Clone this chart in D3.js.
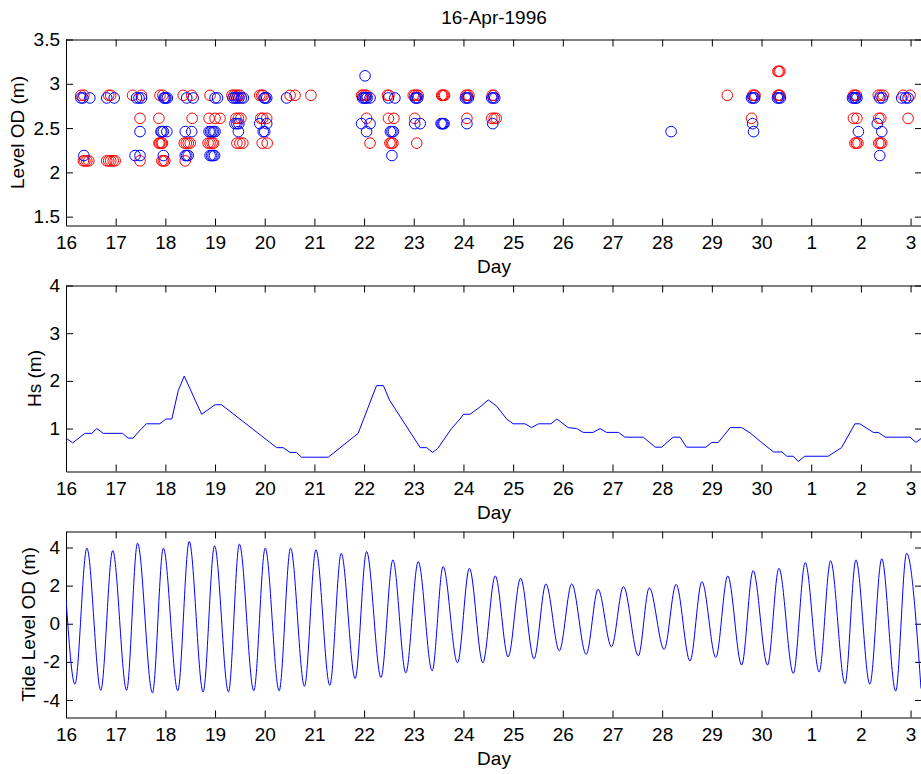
<!DOCTYPE html>
<html>
<head>
<meta charset="utf-8">
<script src="https://cdn.jsdelivr.net/npm/d3@7"></script>
<style>
  body { margin: 0; background: #fff; }
  svg text { font-family: "Liberation Sans", Arial, sans-serif; font-size: 19px; fill: #000; }
</style>
</head>
<body>
<svg id="chart" width="921" height="774"></svg>
<script>
// x axis: days counted from 16-Apr-1996 00:00
var dayLabels = ["16","17","18","19","20","21","22","23","24","25","26","27","28","29","30","1","2","3"];
var levelTicks = [1.5, 2, 2.5, 3, 3.5];
var hsTicks = [1, 2, 3, 4];
var tideTicks = [-4, -2, 0, 2, 4];

// observed levels (day, level OD m)
var redObs = [
  [0.30,2.87],[0.36,2.87],[0.86,2.87],[0.90,2.87],[1.34,2.87],[1.52,2.87],[1.89,2.87],[1.95,2.87],
  [2.36,2.87],[2.53,2.87],[2.90,2.87],[3.34,2.87],[3.38,2.87],[3.42,2.87],[3.46,2.87],[3.50,2.87],
  [3.90,2.87],[3.94,2.87],[3.97,2.87],[4.51,2.87],[4.61,2.87],[4.93,2.87],
  [5.95,2.87],[5.98,2.87],[6.02,2.87],[6.05,2.87],[6.47,2.87],[6.50,2.87],
  [6.99,2.87],[7.02,2.87],[7.06,2.87],[7.09,2.87],[7.56,2.87],[7.58,2.87],[7.60,2.87],[7.62,2.87],
  [8.05,2.87],[8.08,2.87],[8.11,2.87],[8.58,2.87],[8.61,2.87],[13.31,2.87],
  [13.82,2.87],[13.85,2.87],[13.87,2.87],[14.33,2.87],[14.35,2.87],[14.37,2.87],
  [15.85,2.87],[15.88,2.87],[15.91,2.87],[16.35,2.87],[16.40,2.87],[16.45,2.87],[16.85,2.87],[16.99,2.87],
  [1.49,2.61],[1.87,2.61],[2.54,2.61],[2.88,2.61],[3.00,2.61],[3.10,2.61],[3.42,2.61],[3.47,2.61],[3.52,2.61],
  [3.92,2.61],[3.96,2.61],[4.04,2.61],[6.05,2.61],[6.49,2.61],[6.60,2.61],[7.02,2.61],[8.07,2.61],
  [8.57,2.61],[8.62,2.61],[8.66,2.61],[13.80,2.61],[15.85,2.61],[15.92,2.61],[16.36,2.61],[16.40,2.61],[16.95,2.61],
  [1.87,2.33],[1.89,2.33],[1.92,2.33],[1.94,2.33],[2.38,2.33],[2.42,2.33],[2.46,2.33],[2.50,2.33],
  [2.86,2.33],[2.90,2.33],[2.94,2.33],[2.97,2.33],[3.44,2.33],[3.50,2.33],[3.56,2.33],[3.95,2.33],[4.05,2.33],
  [6.12,2.33],[6.52,2.33],[6.55,2.33],[6.58,2.33],[7.06,2.33],
  [15.88,2.33],[15.91,2.33],[15.94,2.33],[16.36,2.33],[16.39,2.33],[16.42,2.33],
  [0.35,2.13],[0.38,2.13],[0.42,2.13],[0.46,2.13],[0.82,2.13],[0.86,2.13],[0.90,2.13],[0.95,2.13],[0.99,2.13],
  [1.49,2.13],[1.93,2.13],[1.96,2.13],[1.99,2.13],[2.40,2.13],
  [14.33,3.14],[14.35,3.14],[14.37,3.14]
];
var blueObs = [
  [0.30,2.84],[0.34,2.84],[0.48,2.84],[0.82,2.84],[0.97,2.84],[1.42,2.84],[1.47,2.84],[1.52,2.84],
  [1.97,2.84],[1.99,2.84],[2.01,2.84],[2.04,2.84],[2.43,2.84],[2.56,2.84],[3.00,2.84],[3.05,2.84],
  [3.36,2.84],[3.40,2.84],[3.44,2.84],[3.48,2.84],[3.53,2.84],[3.57,2.84],[3.99,2.84],[4.01,2.84],[4.04,2.84],
  [4.44,2.84],[5.97,2.84],[6.00,2.84],[6.03,2.84],[6.06,2.84],[6.12,2.84],[6.49,2.84],[6.62,2.84],
  [7.03,2.84],[7.05,2.84],[7.08,2.84],[8.04,2.84],[8.07,2.84],[8.10,2.84],[8.57,2.84],[8.60,2.84],[8.63,2.84],
  [13.80,2.84],[13.83,2.84],[13.86,2.84],[14.32,2.84],[14.35,2.84],[14.38,2.84],
  [15.83,2.84],[15.86,2.84],[15.89,2.84],[15.92,2.84],[16.38,2.84],[16.43,2.84],[16.82,2.84],[16.90,2.84],[16.95,2.84],
  [3.40,2.55],[3.44,2.55],[3.48,2.55],[3.90,2.55],[4.04,2.55],[5.95,2.55],[6.12,2.55],[7.02,2.55],[7.13,2.55],
  [7.55,2.55],[7.57,2.55],[7.59,2.55],[7.61,2.55],[8.07,2.55],[8.59,2.55],[13.82,2.55],[16.33,2.55],
  [1.49,2.46],[1.91,2.46],[1.93,2.46],[1.96,2.46],[2.03,2.46],[2.40,2.46],[2.53,2.46],
  [2.88,2.46],[2.91,2.46],[2.94,2.46],[2.97,2.46],[3.00,2.46],[3.47,2.46],[3.97,2.46],[4.00,2.46],
  [6.05,2.46],[6.53,2.46],[6.56,2.46],[6.59,2.46],[12.18,2.46],[13.84,2.46],[15.95,2.46],[16.42,2.46],
  [0.36,2.19],[1.39,2.19],[1.49,2.19],[1.96,2.19],[2.40,2.19],[2.43,2.19],[2.46,2.19],
  [2.90,2.19],[2.93,2.19],[2.96,2.19],[2.99,2.19],[6.56,2.19],[16.38,2.19],
  [6.02,3.09]
];

// significant wave height (day, Hs m)
var hsData = [
  [0.00,0.8],[0.135,0.7],[0.38,0.9],[0.52,0.9],[0.62,1.0],[0.75,0.9],[1.14,0.9],[1.25,0.8],[1.35,0.8],
  [1.52,1.0],[1.62,1.1],[1.89,1.1],[2.01,1.2],[2.13,1.2],[2.26,1.8],[2.38,2.1],[2.73,1.3],[3.00,1.5],
  [3.13,1.5],[4.24,0.6],[4.37,0.6],[4.51,0.5],[4.64,0.5],[4.74,0.4],[5.28,0.4],[5.88,0.9],[6.25,1.9],
  [6.39,1.9],[6.51,1.6],[7.13,0.6],[7.26,0.6],[7.38,0.5],[7.48,0.58],[7.76,1.0],[7.93,1.2],[8.00,1.3],
  [8.13,1.3],[8.33,1.45],[8.50,1.6],[8.67,1.47],[8.87,1.2],[9.00,1.1],[9.24,1.1],[9.37,1.02],[9.51,1.1],
  [9.76,1.1],[9.88,1.2],[10.11,1.02],[10.28,1.0],[10.41,0.92],[10.61,0.92],[10.75,1.0],[10.88,0.92],
  [11.12,0.92],[11.25,0.82],[11.62,0.82],[11.86,0.61],[11.99,0.61],[12.22,0.82],[12.36,0.82],[12.49,0.61],
  [12.88,0.61],[13.00,0.71],[13.13,0.71],[13.37,1.02],[13.60,1.02],[13.77,0.91],[14.00,0.71],[14.24,0.51],
  [14.41,0.51],[14.51,0.42],[14.64,0.42],[14.74,0.31],[14.87,0.42],[15.34,0.42],[15.61,0.6],[15.88,1.1],
  [15.98,1.1],[16.25,0.92],[16.35,0.92],[16.49,0.82],[16.99,0.82],[17.11,0.71],[17.21,0.79]
];

// tide turning points (day, level OD m)
var tideData = [
  [0.00,1.34],[0.18,-3.17],[0.42,3.97],[0.70,-3.49],[0.94,3.84],[1.22,-3.49],[1.44,4.23],[1.74,-3.63],
  [1.96,3.97],[2.25,-3.52],[2.48,4.32],[2.76,-3.58],[2.99,4.09],[3.27,-3.58],[3.49,4.18],[3.78,-3.52],
  [4.01,3.97],[4.29,-3.52],[4.52,3.97],[4.80,-3.28],[5.03,3.88],[5.31,-3.23],[5.54,3.70],[5.82,-2.88],
  [6.05,3.79],[6.34,-2.82],[6.58,3.35],[6.84,-2.58],[7.09,3.26],[7.37,-2.47],[7.59,3.00],[7.88,-2.05],
  [8.12,2.91],[8.39,-2.05],[8.64,2.51],[8.90,-1.74],[9.15,2.39],[9.42,-1.84],[9.66,2.09],[9.93,-1.42],
  [10.18,2.09],[10.47,-1.61],[10.71,1.81],[10.98,-1.21],[11.22,1.95],[11.52,-1.68],[11.74,1.89],[12.04,-1.35],
  [12.28,2.07],[12.56,-1.95],[12.80,2.21],[13.08,-1.77],[13.32,2.51],[13.60,-2.17],[13.83,2.79],[14.12,-2.17],
  [14.35,2.91],[14.64,-2.61],[14.88,3.21],[15.16,-2.53],[15.39,3.30],[15.68,-3.14],[15.90,3.35],[16.18,-3.17],
  [16.42,3.41],[16.70,-3.54],[16.92,3.70],[17.21,-3.40]
];

var svg = d3.select("#chart");
var left = 66, right = 922, h = 186;
var dayTicks = dayLabels.map(function(d, i) { return i; });

var x = d3.scaleLinear().domain([0, 17.23]).range([left, right]);

function makePanel(top, ydom, yTicks, ylabel, ylabelX) {
  var y = d3.scaleLinear().domain(ydom).range([top + h, top]);
  var g = svg.append("g");

  g.append("g").attr("transform", "translate(0," + (top + h) + ")")
    .call(d3.axisBottom(x).tickValues(dayTicks).tickFormat(function(d, i) { return dayLabels[i]; })
      .tickSize(-7).tickSizeOuter(0).tickPadding(10));
  g.append("g").attr("transform", "translate(0," + top + ")")
    .call(d3.axisTop(x).tickValues(dayTicks).tickFormat("").tickSize(-7).tickSizeOuter(0));
  g.append("g").attr("transform", "translate(" + left + ",0)")
    .call(d3.axisLeft(y).tickValues(yTicks).tickFormat(function(d) { return String(d); })
      .tickSize(-7).tickSizeOuter(0).tickPadding(6));
  g.append("g").attr("transform", "translate(" + right + ",0)")
    .call(d3.axisRight(y).tickValues(yTicks).tickFormat("").tickSize(-7).tickSizeOuter(0));

  g.append("text")
    .attr("x", (left + right) / 2).attr("y", top + h + 47.5)
    .attr("text-anchor", "middle").text("Day");
  g.append("text")
    .attr("transform", "translate(" + ylabelX + "," + (top + h / 2) + ") rotate(-90)")
    .attr("text-anchor", "middle").text(ylabel);

  return {g: g, y: y};
}

// clip for the lines
svg.append("defs").append("clipPath").attr("id", "clip")
  .append("rect").attr("x", left).attr("y", 0).attr("width", right - left).attr("height", 774);

// panel 1: observed levels
var p1 = makePanel(39.5, [1.4, 3.5], levelTicks, "Level OD (m)", 24);
p1.g.append("g").selectAll("circle.red").data(redObs).enter().append("circle")
  .attr("cx", function(d) { return x(d[0]); })
  .attr("cy", function(d) { return p1.y(d[1]); })
  .attr("r", 5.3)
  .style("fill", "none").style("stroke", "#ff0000").style("stroke-width", 1);
p1.g.append("g").selectAll("circle.blue").data(blueObs).enter().append("circle")
  .attr("cx", function(d) { return x(d[0]); })
  .attr("cy", function(d) { return p1.y(d[1]); })
  .attr("r", 5.3)
  .style("fill", "none").style("stroke", "#0000ff").style("stroke-width", 1);

svg.append("text").attr("x", 494).attr("y", 24).attr("text-anchor", "middle").text("16-Apr-1996");

// panel 2: Hs
var p2 = makePanel(285.5, [0.1, 4], hsTicks, "Hs (m)", 41);
p2.g.append("path").datum(hsData)
  .attr("clip-path", "url(#clip)")
  .attr("d", d3.line().x(function(d) { return x(d[0]); }).y(function(d) { return p2.y(d[1]); }))
  .style("fill", "none").style("stroke", "#0000ff").style("stroke-width", 1);

// panel 3: tide
var p3 = makePanel(531.5, [-4.92, 4.84], tideTicks, "Tide Level OD (m)", 35);
p3.g.append("path").datum(tideData)
  .attr("clip-path", "url(#clip)")
  .attr("d", d3.line().curve(d3.curveMonotoneX)
    .x(function(d) { return x(d[0]); }).y(function(d) { return p3.y(d[1]); }))
  .style("fill", "none").style("stroke", "#0000ff").style("stroke-width", 1);
</script>
</body>
</html>
